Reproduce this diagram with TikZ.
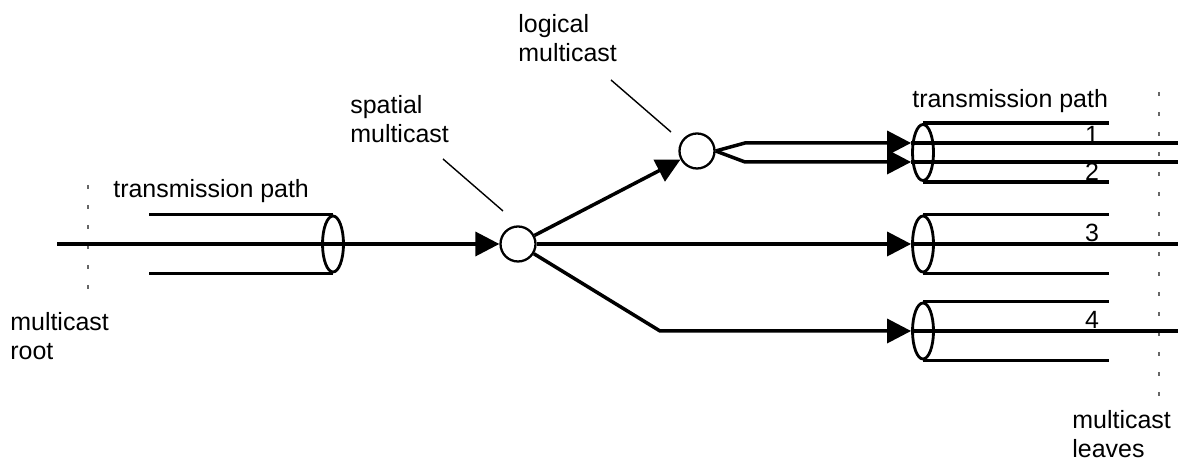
\documentclass[tikz,border=0pt]{standalone}
\usepackage{fontspec}
\setmainfont{Liberation Sans}
\usetikzlibrary{arrows.meta,shapes.geometric}

\begin{document}
\begin{tikzpicture}[
	leitung/.style={line width=2pt},
	pfeil/.style={line width=2pt,-{Triangle[length=0.48cm,width=0.48cm]}},
	knoten/.style={circle,draw,line width=1.3pt,minimum size=0.7cm,inner sep=0pt},
	rohr/.style={ellipse,draw,line width=1.6pt,minimum width=0.42cm,minimum height=1.12cm,inner sep=0pt},
	zeiger/.style={line width=0.8pt},
	grenze/.style={black!60,line width=0.6pt,dash pattern=on 0.08cm off 0.32cm},
	beschr/.style={font=\fontsize{14.2pt}{16.5pt}\selectfont,inner sep=0pt,align=left}
	]

	\useasboundingbox (0,0) rectangle (23.56,9.22);

	% Grenzen
	\draw[grenze] (1.76,5.52) -- (1.76,3.42);
	\draw[grenze] (23.18,7.38) -- (23.18,1.18);

	% Knoten
	\node[knoten] (sp) at (10.36,4.34) {};
	\node[knoten] (lg) at (13.94,6.20) {};

	% Rohre
	\node[rohr] (t0) at (6.66,4.34) {};
	\node[rohr] (t1) at (18.46,6.17) {};
	\node[rohr] (t2) at (18.46,4.34) {};
	\node[rohr] (t3) at (18.46,2.60) {};

	\draw[leitung] (t0.north) -- ++(-3.68,0);
	\draw[leitung] (t0.south) -- ++(-3.68,0);
	\draw[leitung] (t1.north) -- ++(3.72,0);
	\draw[leitung] (t1.south) -- ++(3.72,0);
	\draw[leitung] (t2.north) -- ++(3.72,0);
	\draw[leitung] (t2.south) -- ++(3.72,0);
	\draw[leitung] (t3.north) -- ++(3.72,0);
	\draw[leitung] (t3.south) -- ++(3.72,0);

	% Punkte
	\coordinate (wurzel) at (1.14,4.34);
	\coordinate (knick) at (13.20,2.60);
	\coordinate (ab1) at (14.90,6.36);
	\coordinate (ab2) at (14.90,5.98);
	\coordinate (blatt1) at (23.56,6.36);
	\coordinate (blatt2) at (23.56,5.98);
	\coordinate (blatt3) at (23.56,4.34);
	\coordinate (blatt4) at (23.56,2.60);

	% Pfade
	\draw[pfeil] (wurzel) -- (sp);
	\draw[pfeil] (sp) -- (lg);
	\draw[pfeil] (sp) -- (t2.west);
	\draw[pfeil] (sp) -- (knick) -- (t3.west);
	\draw[pfeil] (lg.east) -- (ab1) -- (t1.west |- ab1);
	\draw[pfeil] (lg.east) -- (ab2) -- (t1.west |- ab2);

	\draw[leitung] (t1.west |- ab1) -- (blatt1);
	\draw[leitung] (t1.west |- ab2) -- (blatt2);
	\draw[leitung] (t2.west) -- (blatt3);
	\draw[leitung] (t3.west) -- (blatt4);

	% Nummern
	\node[beschr] (n1) at (21.84,6.52) {1};
	\node[beschr] (n2) at (21.84,5.78) {2};
	\node[beschr] (n3) at (21.84,4.56) {3};
	\node[beschr] (n4) at (21.84,2.82) {4};

	% Beschriftung (base = letzte Zeile)
	\node[beschr,anchor=base west] (tp0) at (2.26,5.26) {transmission path};
	\node[beschr,anchor=base west] (tp1) at (18.24,7.06) {transmission path};
	\node[beschr,anchor=base west] (wurzel-lbl) at (0.2,2.02) {multicast\\root};
	\node[beschr,anchor=base west] (sp-lbl) at (7.00,6.36) {spatial\\multicast};
	\node[beschr,anchor=base west] (lg-lbl) at (10.36,7.98) {logical\\multicast};
	\node[beschr,anchor=base west] (blatt-lbl) at (21.44,0.06) {multicast\\leaves};

	% Zeiger
	\coordinate (sp-z1) at (8.86,6.04);
	\coordinate (sp-z2) at (10.06,5.00);
	\coordinate (lg-z1) at (12.22,7.62);
	\coordinate (lg-z2) at (13.42,6.58);
	\draw[zeiger] (sp-z1) -- (sp-z2);
	\draw[zeiger] (lg-z1) -- (lg-z2);

\end{tikzpicture}
\end{document}
